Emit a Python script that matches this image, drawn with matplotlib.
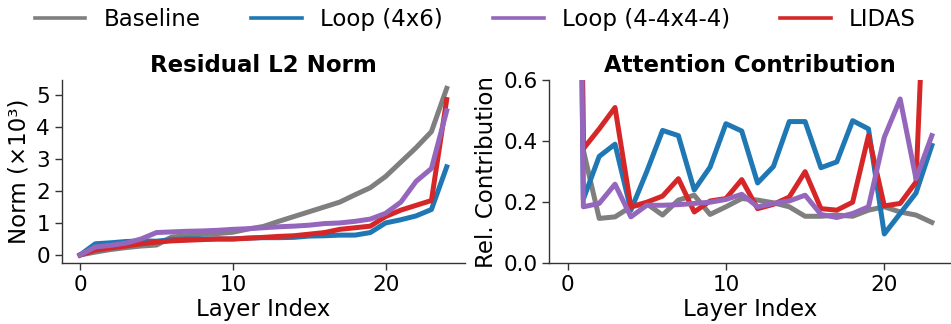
import matplotlib
matplotlib.use("Agg")
import matplotlib.pyplot as plt
from matplotlib.lines import Line2D

# ---- data ----
series_names = ["Baseline", "Loop (4x6)", "Loop (4-4x4-4)", "LIDAS"]
series_colors = ["#7f7f7f", "#1f77b4", "#9467bd", "#d62728"]

layers_norm = list(range(25))
norm_baseline = [0, 0.09, 0.17, 0.23, 0.28, 0.31, 0.56, 0.60, 0.65, 0.67, 0.71, 0.81, 0.89,
                 1.05, 1.20, 1.35, 1.50, 1.65, 1.88, 2.10, 2.45, 2.90, 3.35, 3.85, 5.20]
norm_loop46 = [0, 0.35, 0.38, 0.42, 0.44, 0.43, 0.48, 0.50, 0.50, 0.50, 0.50, 0.53, 0.54,
               0.54, 0.55, 0.59, 0.60, 0.62, 0.62, 0.70, 1.00, 1.10, 1.22, 1.42, 2.75]
norm_loop4444 = [0, 0.25, 0.30, 0.37, 0.50, 0.70, 0.72, 0.74, 0.75, 0.77, 0.80, 0.82, 0.85,
                 0.88, 0.90, 0.93, 0.98, 1.00, 1.05, 1.12, 1.30, 1.65, 2.30, 2.70, 4.50]
norm_lidas = [0, 0.15, 0.22, 0.28, 0.35, 0.40, 0.44, 0.46, 0.48, 0.50, 0.50, 0.52, 0.55,
              0.58, 0.60, 0.65, 0.70, 0.80, 0.85, 0.90, 1.20, 1.40, 1.55, 1.70, 4.85]

layers_attn = list(range(24))
attn_baseline = [5.0, 0.37, 0.147, 0.152, 0.185, 0.195, 0.158, 0.207, 0.223, 0.16, 0.185, 0.212,
                 0.207, 0.198, 0.185, 0.154, 0.154, 0.158, 0.154, 0.174, 0.185, 0.168, 0.158, 0.134]
attn_loop46 = [5.0, 0.21, 0.35, 0.39, 0.174, 0.30, 0.435, 0.418, 0.24, 0.315, 0.457, 0.433,
               0.263, 0.317, 0.464, 0.464, 0.313, 0.332, 0.467, 0.44, 0.096, 0.163, 0.23, 0.386]
attn_loop4444 = [5.0, 0.185, 0.196, 0.259, 0.152, 0.19, 0.19, 0.192, 0.196, 0.2, 0.209, 0.226,
                 0.185, 0.196, 0.204, 0.223, 0.16, 0.15, 0.163, 0.185, 0.413, 0.538, 0.277, 0.418]
attn_lidas = [5.0, 0.375, 0.44, 0.51, 0.185, 0.20, 0.22, 0.277, 0.168, 0.204, 0.212, 0.274,
              0.179, 0.193, 0.217, 0.30, 0.179, 0.174, 0.20, 0.418, 0.188, 0.196, 0.266, 1.5]

x_ticks = [0, 10, 20]
norm_yticks = [0, 1, 2, 3, 4, 5]
attn_yticks = [0.0, 0.2, 0.4, 0.6]

# ---- plot ----
plt.rcParams["font.family"] = ["DejaVu Sans"]
fig = plt.figure(figsize=(9.51, 3.24), dpi=100)
ax1 = fig.add_axes([0.0649, 0.1873, 0.4241, 0.5657])
ax2 = fig.add_axes([0.5776, 0.1873, 0.4214, 0.5657])

norm_data = [norm_baseline, norm_loop46, norm_loop4444, norm_lidas]
attn_data = [attn_baseline, attn_loop46, attn_loop4444, attn_lidas]
draw_order = [0, 1, 3, 2]
lw = 3.6
for i in draw_order:
    ax1.plot(layers_norm, norm_data[i], color=series_colors[i], lw=lw, label=series_names[i])
    ax2.plot(layers_attn, attn_data[i], color=series_colors[i], lw=lw, label=series_names[i])

ax2.set_ylim(0, 0.6)
ax1.set_yticks(norm_yticks)
ax2.set_yticks(attn_yticks)
ax2.set_yticklabels([f"{v:.1f}" for v in attn_yticks])

tick_fs = 15.5
label_fs = 16.5
for ax in (ax1, ax2):
    ax.set_xticks(x_ticks)
    ax.spines["top"].set_visible(False)
    ax.spines["right"].set_visible(False)
    for s in ("left", "bottom"):
        ax.spines[s].set_color("#333333")
        ax.spines[s].set_linewidth(1.0)
    ax.tick_params(labelsize=tick_fs, length=5, width=1.0, color="#333333")
    ax.set_xlabel("Layer Index", fontsize=label_fs, labelpad=2)

ax1.set_ylabel("Norm (×10³)", fontsize=label_fs, labelpad=4)
ax2.set_ylabel("Rel. Contribution", fontsize=label_fs, labelpad=4)
ax1.set_title("Residual L2 Norm", fontsize=16.5, fontweight="bold", pad=6)
ax2.set_title("Attention Contribution", fontsize=16.5, fontweight="bold", pad=6)

handles = [Line2D([0], [0], color=c, lw=2.6) for c in series_colors]
fig.legend(handles, series_names, loc="upper center", ncol=4, frameon=False,
           fontsize=16.5, bbox_to_anchor=(0.5, 1.04), columnspacing=2.2,
           handlelength=2.2, handletextpad=0.8)

fig.savefig("out.png", dpi=100)
